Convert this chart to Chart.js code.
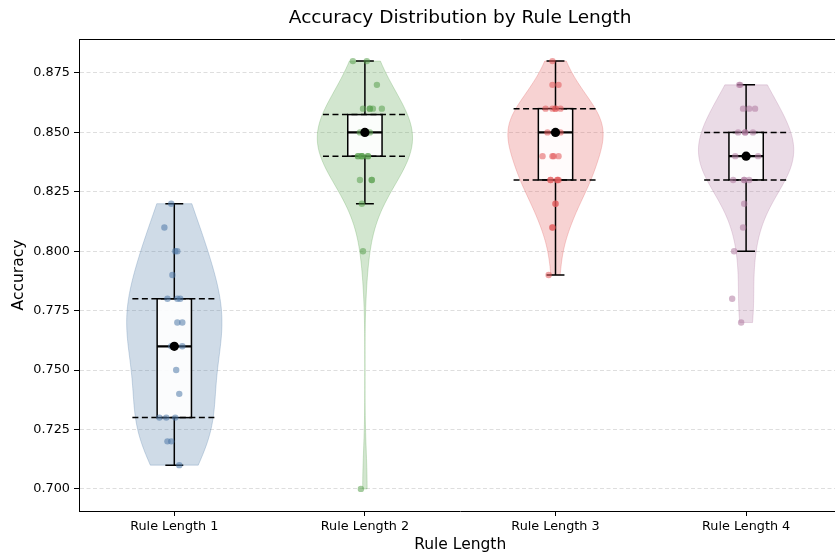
<!DOCTYPE html>
<html>
<head>
<meta charset="utf-8">
<script src="https://cdn.jsdelivr.net/npm/chart.js@4.4.0/dist/chart.umd.min.js"></script>
<style>
html,body{margin:0;padding:0;background:#fff;overflow:hidden;}
#wrap{width:846px;height:556px;}
</style>
</head>
<body>
<div id="wrap"><canvas id="c" width="846" height="556"></canvas></div>
<script>
// ---------- data ----------
const categories = ['Rule Length 1', 'Rule Length 2', 'Rule Length 3', 'Rule Length 4'];
const yTickValues = [0.700, 0.725, 0.750, 0.775, 0.800, 0.825, 0.850, 0.875];

const acc1 = [0.82,0.81,0.80,0.80,0.79,0.78,0.78,0.78,0.77,0.77,0.76,0.76,0.76,0.75,0.74,0.73,0.73,0.73,0.72,0.72,0.71];
const acc2 = [0.88,0.88,0.87,0.86,0.86,0.86,0.86,0.86,0.85,0.85,0.85,0.85,0.85,0.85,0.85,0.85,0.85,
              0.84,0.84,0.84,0.84,0.84,0.84,0.84,0.83,0.83,0.83,0.82,0.80,0.70];
const acc3 = [0.88,0.87,0.87,0.86,0.86,0.86,0.86,0.86,0.85,0.85,0.85,0.85,0.85,0.85,0.85,
              0.84,0.84,0.84,0.84,0.83,0.83,0.83,0.83,0.83,0.82,0.82,0.81,0.81,0.79];
const acc4 = [0.87,0.87,0.86,0.86,0.86,0.85,0.85,0.85,0.85,0.84,0.84,0.84,0.84,0.84,0.84,
              0.83,0.83,0.83,0.83,0.82,0.81,0.80,0.78,0.77];

// horizontal jitter of the strip points (category units)
const jitter1 = [-0.016,-0.052,0.005,0.016,-0.010,-0.036,0.016,0.031,0.016,0.042,-0.016,0,0.042,0.010,0.026,-0.078,-0.042,0.005,-0.036,-0.016,0.026];
const jitter2 = [-0.063,0.010,0.063,-0.010,0.026,0.042,0.089,0.026,-0.026,0.026,0,0,0,0,0,0,0,
                 -0.036,-0.016,0.016,-0.036,-0.016,0.016,-0.016,-0.026,0.036,0.036,-0.016,-0.010,-0.021];
const jitter3 = [-0.016,-0.016,0.016,-0.052,-0.016,0,0.026,0,-0.042,0.026,0,0,0,0,0,
                 -0.068,-0.016,-0.010,0.016,-0.026,0.010,0.016,0.010,-0.026,0,0,-0.016,-0.016,-0.036];
const jitter4 = [-0.036,-0.031,-0.016,0.016,0.047,-0.042,-0.005,0.036,-0.005,-0.057,0,0.063,0,0,0,
                 -0.068,-0.010,0.016,-0.010,-0.010,-0.016,-0.063,-0.073,-0.026];

// box statistics
const q1Values     = [0.73, 0.84, 0.83, 0.83];
const medianValues = [0.76, 0.85, 0.85, 0.84];
const q3Values     = [0.78, 0.8575, 0.86, 0.85];
const whiskerLow   = [0.71, 0.82, 0.79, 0.80];
const whiskerHigh  = [0.82, 0.88, 0.88, 0.87];
const meanValues   = [0.76, 0.85, 0.85, 0.84];

const groups = [acc1, acc2, acc3, acc4];
const jitters = [jitter1, jitter2, jitter3, jitter4];
const colors = ['#4E79A7', '#59A14F', '#E15759', '#B07AA1'];
const FONT = "'DejaVu Sans', sans-serif";

function rgba(hex, a) {
  const n = parseInt(hex.slice(1), 16);
  return 'rgba(' + ((n >> 16) & 255) + ',' + ((n >> 8) & 255) + ',' + (n & 255) + ',' + a + ')';
}

// gaussian KDE (Scott's rule), evaluated between data min and max
function kdeProfile(data, steps) {
  const n = data.length;
  const mean = data.reduce((s, v) => s + v, 0) / n;
  const variance = data.reduce((s, v) => s + (v - mean) * (v - mean), 0) / (n - 1);
  const bw = Math.sqrt(variance) * Math.pow(n, -0.2);
  const lo = Math.min(...data), hi = Math.max(...data);
  const pts = [];
  for (let k = 0; k < steps; k++) {
    const y = lo + (hi - lo) * k / (steps - 1);
    let d = 0;
    for (const v of data) { const z = (y - v) / bw; d += Math.exp(-0.5 * z * z); }
    pts.push({ y: y, d: d });
  }
  const max = Math.max(...pts.map(p => p.d));
  return pts.map(p => ({ y: p.y, w: p.d / max }));
}

const VIOLIN_HALF = 0.25, BOX_HALF = 0.09, CAP_HALF = 0.047, DASH_HALF = 0.22;

const violinPlugin = {
  id: 'violins',
  beforeDatasetsDraw(chart) {
    const { ctx, chartArea, scales: { x, y } } = chart;
    ctx.save();
    ctx.beginPath();
    ctx.rect(chartArea.left, chartArea.top, chartArea.right - chartArea.left, chartArea.bottom - chartArea.top);
    ctx.clip();
    groups.forEach((data, i) => {
      const prof = kdeProfile(data, 100);
      ctx.beginPath();
      prof.forEach((p, k) => {
        const px = x.getPixelForValue(i - VIOLIN_HALF * p.w), py = y.getPixelForValue(p.y);
        if (k === 0) ctx.moveTo(px, py); else ctx.lineTo(px, py);
      });
      for (let k = prof.length - 1; k >= 0; k--) {
        const p = prof[k];
        ctx.lineTo(x.getPixelForValue(i + VIOLIN_HALF * p.w), y.getPixelForValue(p.y));
      }
      ctx.closePath();
      ctx.fillStyle = rgba(colors[i], 0.27);
      ctx.fill();
      ctx.strokeStyle = rgba(colors[i], 0.27);
      ctx.lineWidth = 1;
      ctx.stroke();
    });
    groups.forEach((data, i) => {
      const xc = x.getPixelForValue(i);
      const xl = x.getPixelForValue(i - BOX_HALF), xr = x.getPixelForValue(i + BOX_HALF);
      const yq1 = y.getPixelForValue(q1Values[i]), yq3 = y.getPixelForValue(q3Values[i]);
      const ymed = y.getPixelForValue(medianValues[i]);
      const ylo = y.getPixelForValue(whiskerLow[i]), yhi = y.getPixelForValue(whiskerHigh[i]);
      ctx.setLineDash([]);
      ctx.fillStyle = 'rgba(255,255,255,0.92)';
      ctx.fillRect(xl, yq3, xr - xl, yq1 - yq3);
      ctx.strokeStyle = '#000';
      ctx.lineWidth = 1.5;
      ctx.strokeRect(xl, yq3, xr - xl, yq1 - yq3);
      ctx.beginPath();
      ctx.moveTo(xc, yq1); ctx.lineTo(xc, ylo);
      ctx.moveTo(xc, yq3); ctx.lineTo(xc, yhi);
      const cl = x.getPixelForValue(i - CAP_HALF), cr = x.getPixelForValue(i + CAP_HALF);
      ctx.moveTo(cl, ylo); ctx.lineTo(cr, ylo);
      ctx.moveTo(cl, yhi); ctx.lineTo(cr, yhi);
      ctx.stroke();
      ctx.lineWidth = 2.2;
      ctx.beginPath();
      ctx.moveTo(xl, ymed); ctx.lineTo(xr, ymed);
      ctx.stroke();
      ctx.lineWidth = 1.5;
      ctx.setLineDash([6, 3.5]);
      const dl = x.getPixelForValue(i - DASH_HALF), dr = x.getPixelForValue(i + DASH_HALF);
      ctx.beginPath();
      ctx.moveTo(dl, yq1); ctx.lineTo(dr, yq1);
      ctx.moveTo(dl, yq3); ctx.lineTo(dr, yq3);
      ctx.stroke();
      ctx.setLineDash([]);
    });
    ctx.restore();
  },
  afterDraw(chart) {
    const { ctx, chartArea } = chart;
    ctx.save();
    ctx.strokeStyle = '#000';
    ctx.lineWidth = 1;
    ctx.beginPath();
    ctx.moveTo(chartArea.left, Math.round(chartArea.top) + 0.5);
    ctx.lineTo(chartArea.right, Math.round(chartArea.top) + 0.5);
    ctx.moveTo(chartArea.right - 0.5, chartArea.top);
    ctx.lineTo(chartArea.right - 0.5, chartArea.bottom);
    ctx.stroke();
    ctx.fillStyle = '#000';
    ctx.font = '18.5px ' + FONT;
    ctx.textAlign = 'center';
    ctx.textBaseline = 'alphabetic';
    ctx.fillText('Accuracy Distribution by Rule Length', (chartArea.left + chartArea.right) / 2, 23);
    ctx.restore();
  }
};

const datasets = [{
  label: 'mean',
  data: meanValues.map((m, i) => ({ x: i, y: m })),
  pointRadius: 4.6,
  pointBackgroundColor: '#000',
  pointBorderColor: '#000',
  pointBorderWidth: 0
}];
groups.forEach((g, i) => {
  datasets.push({
    label: categories[i],
    data: g.map((v, k) => ({ x: i + jitters[i][k], y: v })),
    pointRadius: 3.2,
    pointBackgroundColor: rgba(colors[i], 0.55),
    pointBorderWidth: 0
  });
});

new Chart(document.getElementById('c'), {
  type: 'scatter',
  data: { datasets: datasets },
  options: {
    responsive: false,
    animation: false,
    events: [],
    layout: { padding: { top: 39, left: 0, right: 0, bottom: 0 } },
    plugins: { legend: { display: false }, title: { display: false }, tooltip: { enabled: false } },
    scales: {
      x: {
        type: 'linear', min: -0.5, max: 3.5,
        afterBuildTicks: s => { s.ticks = categories.map((_, i) => ({ value: i })); },
        afterFit: s => { s.height = 45; },
        ticks: { callback: v => categories[v], font: { family: FONT, size: 12.8 }, color: '#000', padding: 3, maxRotation: 0, autoSkip: false },
        grid: { display: true, drawOnChartArea: false, drawTicks: true, tickLength: 5, tickColor: '#000', tickWidth: 1, tickBorderDash: [] },
        border: { display: true, color: '#000', width: 1 },
        title: { display: true, text: 'Rule Length', font: { family: FONT, size: 15.5 }, color: '#000', padding: { top: 0, bottom: 1.5 } }
      },
      y: {
        type: 'linear', min: 0.6907, max: 0.8893,
        afterBuildTicks: s => { s.ticks = yTickValues.map(v => ({ value: v })); },
        afterFit: s => { s.width = 79; },
        ticks: { callback: v => Number(v).toFixed(3), font: { family: FONT, size: 12.8 }, color: '#000', padding: 4 },
        grid: { display: true, drawOnChartArea: true, color: 'rgba(0,0,0,0.13)', lineWidth: 1, drawTicks: true, tickLength: 5, tickColor: '#000', tickWidth: 1, tickBorderDash: [] },
        border: { display: true, color: '#000', width: 1, dash: [4, 2.5] },
        title: { display: true, text: 'Accuracy', font: { family: FONT, size: 15.5 }, color: '#000', padding: { top: 9.5, bottom: 0 } }
      }
    }
  },
  plugins: [violinPlugin]
});
</script>
</body>
</html>
